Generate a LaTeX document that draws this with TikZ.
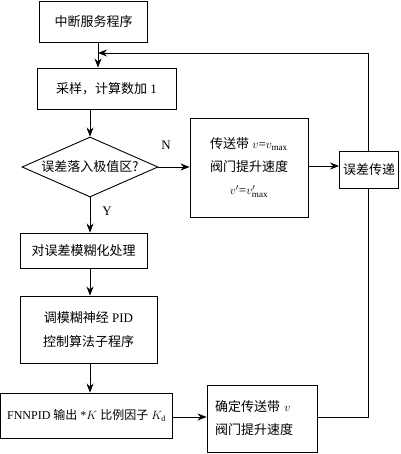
\documentclass[tikz,border=0pt]{standalone}
\usepackage{fontspec}
\setmainfont{Liberation Serif}
\newfontfamily\cjk{Noto Sans CJK SC}
\usetikzlibrary{shapes.geometric,arrows.meta}
\tikzset{
  box/.style={draw,line width=0.9pt,rectangle,inner sep=2pt,font=\fontsize{13}{16}\selectfont},
  decision/.style={draw,line width=0.9pt,diamond,aspect=2.27,inner sep=0pt,minimum width=136pt,minimum height=60pt,font=\fontsize{13}{16}\selectfont},
  arr/.style={line width=0.9pt,-{Stealth[length=9pt,width=7pt]}},
  ln/.style={line width=0.9pt},
  lab/.style={font=\fontsize{13}{16}\selectfont}
}
\begin{document}
\begin{tikzpicture}[x=1pt,y=-1pt]
\useasboundingbox (0,0) rectangle (400,454);
\node[box,minimum width=108pt,minimum height=41pt] (b1) at (93.5,21.5) {\cjk 中断服务程序};
\node[box,minimum width=139pt,minimum height=41pt] (b2) at (106.5,88.5) {{\cjk 采样，计算数加} 1};
\node[decision] (dia) at (90,167) {\cjk 误差落入极值区?};
\node[box,minimum width=118pt,minimum height=99pt,align=center,font=\fontsize{13}{23}\selectfont] (b3) at (249,167.5)
  {{\cjk 传送带} $v$=$v_{\max}$\\{\cjk 阀门提升速度}\\$v'$=$v'_{\max}$};
\node[box,minimum width=59pt,minimum height=37pt,inner sep=1pt] (err) at (369,169.5) {\cjk 误差传递};
\node[box,minimum width=127pt,minimum height=35pt] (b4) at (83.5,250.5) {\cjk 对误差模糊化处理};
\node[box,minimum width=137pt,minimum height=67pt,align=center,font=\fontsize{13}{24}\selectfont] (b5) at (88.5,329.5)
  {{\cjk 调模糊神经} PID\\{\cjk 控制算法子程序}};
\node[box,minimum width=172pt,minimum height=45pt,inner sep=1pt,font=\fontsize{12}{15}\selectfont] (b6) at (86.5,415.5)
  {FNNPID {\cjk 输出} *$K$ {\cjk 比例因子} $K_{\mathrm{d}}$};
\node[box,minimum width=110pt,minimum height=67pt,text width=94pt,align=left,font=\fontsize{13}{23}\selectfont] (b7) at (262,418.5)
  {{\cjk 确定传送带} $v$\\{\cjk 阀门提升速度}};
\coordinate (j) at (98,53);
\coordinate (c1) at (368,53);
\coordinate (c2) at (368,417);
\node[lab] (N) at (166,145) {N};
\node[lab] (Y) at (107,211) {Y};
\draw[arr] (b1.south -| j) -- (b2.north -| j);
\draw[arr] (err.north -| c1) -- (c1) -- (j);
\draw[arr] (b2.south -| dia.north) -- (dia.north);
\draw[arr] (dia.east) -- (b3.west |- dia.east);
\draw[arr] (b3.east |- 0,166) -- (err.west |- 0,166);
\draw[arr] (dia.south) -- (b4.north -| dia.south);
\draw[arr] (b4.south -| dia.south) -- (b5.north -| dia.south);
\draw[arr] (b5.south -| dia.south) -- (b6.north -| dia.south);
\draw[arr] (b6.east |- c2) -- (b7.west |- c2);
\draw[ln] (err.south -| c2) -- (c2) -- (b7.east |- c2);
\end{tikzpicture}
\end{document}
